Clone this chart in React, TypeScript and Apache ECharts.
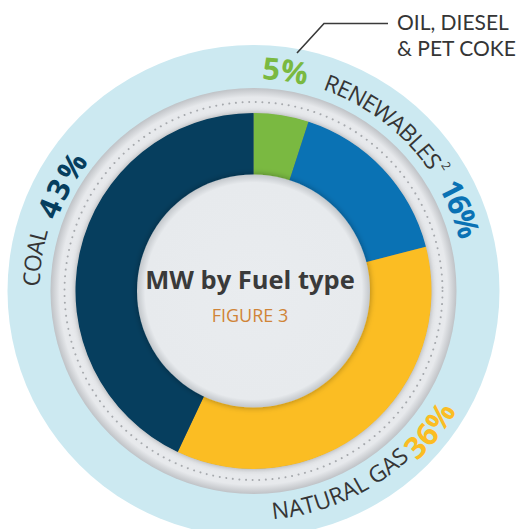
import React, { useEffect, useRef } from 'react';
import * as echarts from 'echarts';

// ---- data ----
const categories = ['Oil, diesel & pet coke', 'Renewables', 'Natural gas', 'Coal'];
const shares = [5, 16, 36, 43];
const sliceColors = ['#7AB941', '#0A72B4', '#FBBD23', '#063E5E'];
const calloutLines = ['OIL, DIESEL', '& PET COKE'];
const nameLabels = ['RENEWABLES', 'NATURAL GAS', 'COAL'];
const superscript = '2';
const titleText = 'MW by Fuel type';
const subtitleText = 'FIGURE 3';

// ---- layout ----
const CX = 253.5;
const CY = 291;
const FAMILY = '"Open Sans", "Noto Sans", sans-serif';
const TEXT_DARK = '#353535';
const LABEL_SIZE = 23;
const PCT_SIZE = 30.5;

let measureCtx: CanvasRenderingContext2D | null = null;
function measure(ch: string, weight: string, size: number): number {
  if (!measureCtx) measureCtx = document.createElement('canvas').getContext('2d');
  if (!measureCtx) return size * 0.6;
  measureCtx.font = `${weight} ${size}px "Open Sans"`;
  return measureCtx.measureText(ch).width;
}

// place characters of a string along a circular arc (angles clockwise from 12 o'clock)
function arcText(
  text: string,
  weight: string,
  size: number,
  color: string,
  firstDeg: number,
  lastDeg: number,
  r: number,
  inward: boolean
) {
  const chars = Array.from(text);
  const ws = chars.map((c) => measure(c, weight, size));
  const n = chars.length;
  const centers: number[] = [];
  let acc = 0;
  for (let i = 0; i < n; i++) {
    centers.push(acc + ws[i] / 2);
    acc += ws[i];
  }
  const toRad = Math.PI / 180;
  const D = centers[n - 1] - centers[0];
  const T = Math.abs(lastDeg - firstDeg) * toRad * r;
  const extra = n > 1 ? (T - D) / (n - 1) : 0;
  const dir = lastDeg >= firstDeg ? 1 : -1;
  const els: any[] = [];
  chars.forEach((c, i) => {
    if (c === ' ') return;
    const s = centers[i] - centers[0] + extra * i;
    const th = firstDeg * toRad + (dir * s) / r;
    const x = CX + r * Math.sin(th);
    const y = CY - r * Math.cos(th);
    const rotation = inward ? Math.PI - th : -th;
    els.push({
      type: 'text',
      x,
      y,
      rotation,
      z: 40,
      silent: true,
      style: {
        text: c,
        x: 0,
        y: 0,
        align: 'center',
        verticalAlign: 'middle',
        fill: color,
        fontSize: size,
        fontWeight: weight,
        fontFamily: FAMILY,
      },
    });
  });
  return els;
}

const pct = (i: number) => `${shares[i]}%`;

export default function App() {
  const ref = useRef<HTMLDivElement>(null);
  useEffect(() => {
    if (!ref.current) return;
    const chart = echarts.init(ref.current, undefined, { renderer: 'svg' });

    const elements: any[] = [
      // outer light blue disc
      { type: 'circle', z: 1, silent: true, shape: { cx: CX, cy: CY, r: 246 }, style: { fill: '#CCE9F1' } },
      // grey ring
      {
        type: 'circle',
        z: 2,
        silent: true,
        shape: { cx: CX, cy: CY, r: 203 },
        style: {
          fill: {
            type: 'radial', x: 0.5, y: 0.5, r: 0.5,
            colorStops: [
              { offset: 0, color: '#E9EBEE' },
              { offset: 0.955, color: '#E7E9EC' },
              { offset: 1, color: '#BFC2C6' },
            ],
          },
        },
      },
      // dotted circle
      {
        type: 'circle',
        z: 3,
        silent: true,
        shape: { cx: CX, cy: CY, r: 189 },
        style: { fill: 'none', stroke: '#A6A9AD', lineWidth: 2, lineDash: [0.01, 6.6], lineCap: 'round' },
      },
      // shadow under donut
      {
        type: 'circle',
        z: 4,
        silent: true,
        shape: { cx: CX, cy: CY, r: 177.5 },
        style: { fill: '#6d7378', shadowBlur: 6, shadowColor: 'rgba(0,0,0,0.35)' },
      },
      // centre disc
      {
        type: 'circle',
        z: 30,
        silent: true,
        shape: { cx: CX, cy: CY, r: 116.5 },
        style: {
          fill: {
            type: 'radial', x: 0.5, y: 0.5, r: 0.5,
            colorStops: [
              { offset: 0, color: '#E9ECEF' },
              { offset: 0.93, color: '#E7EAED' },
              { offset: 1, color: '#C3C7CB' },
            ],
          },
          shadowBlur: 6,
          shadowColor: 'rgba(0,0,0,0.35)',
        },
      },
      {
        type: 'text', z: 40, silent: true, x: 250, y: 279,
        style: { text: titleText, align: 'center', verticalAlign: 'middle', fill: '#3A3A3A', fontSize: 25.5, fontWeight: 'bold', fontFamily: FAMILY },
      },
      {
        type: 'text', z: 40, silent: true, x: 250, y: 315,
        style: { text: subtitleText, align: 'center', verticalAlign: 'middle', fill: '#D08438', fontSize: 18, fontWeight: 'normal', fontFamily: FAMILY },
      },
      // callout for oil, diesel & pet coke
      {
        type: 'polyline', z: 40, silent: true,
        shape: { points: [[297, 53], [324, 23.5], [388, 23.5]] },
        style: { stroke: '#3A3A3A', lineWidth: 1.6, fill: 'none' },
      },
      ...calloutLines.map((t, i) => ({
        type: 'text', z: 40, silent: true, x: 397, y: 21.5 + i * 26,
        style: { text: t, align: 'left', verticalAlign: 'middle', fill: TEXT_DARK, fontSize: 21, fontFamily: 'Lato, "Open Sans", sans-serif' },
      })),
      // curved labels
      ...arcText(pct(0), 'bold', PCT_SIZE, sliceColors[0], 4.6, 10.6, 224, false),
      ...arcText(nameLabels[0], 'normal', LABEL_SIZE, TEXT_DARK, 20.8, 54.1, 222, false),
      ...arcText(superscript, 'normal', 12, TEXT_DARK, 57, 57, 230, false),
      ...arcText(pct(1), 'bold', PCT_SIZE, sliceColors[1], 63, 72.5, 224, false),
      ...arcText(nameLabels[1], 'normal', LABEL_SIZE, TEXT_DARK, 173, 138.5, 220, true),
      ...arcText(pct(2), 'bold', PCT_SIZE, sliceColors[2], 134, 124, 224, true),
      ...arcText(nameLabels[2], 'normal', LABEL_SIZE, TEXT_DARK, 273.1, 284.7, 223, false),
      ...arcText(pct(3), 'bold', PCT_SIZE, sliceColors[3], 292, 304.4, 221, false),
    ];

    chart.setOption({
      animation: false,
      graphic: { elements },
      series: [
        {
          type: 'pie',
          z: 10,
          silent: true,
          center: [CX, CY],
          radius: [110, 178],
          startAngle: 90,
          clockwise: true,
          avoidLabelOverlap: false,
          label: { show: false },
          labelLine: { show: false },
          itemStyle: { borderWidth: 0 },
          data: categories.map((name, i) => ({ name, value: shares[i], itemStyle: { color: sliceColors[i] } })),
        },
      ],
    });
    return () => chart.dispose();
  }, []);
  return <div ref={ref} style={{ position: 'absolute', left: 0, top: 0, width: 521, height: 529 }} />;
}
